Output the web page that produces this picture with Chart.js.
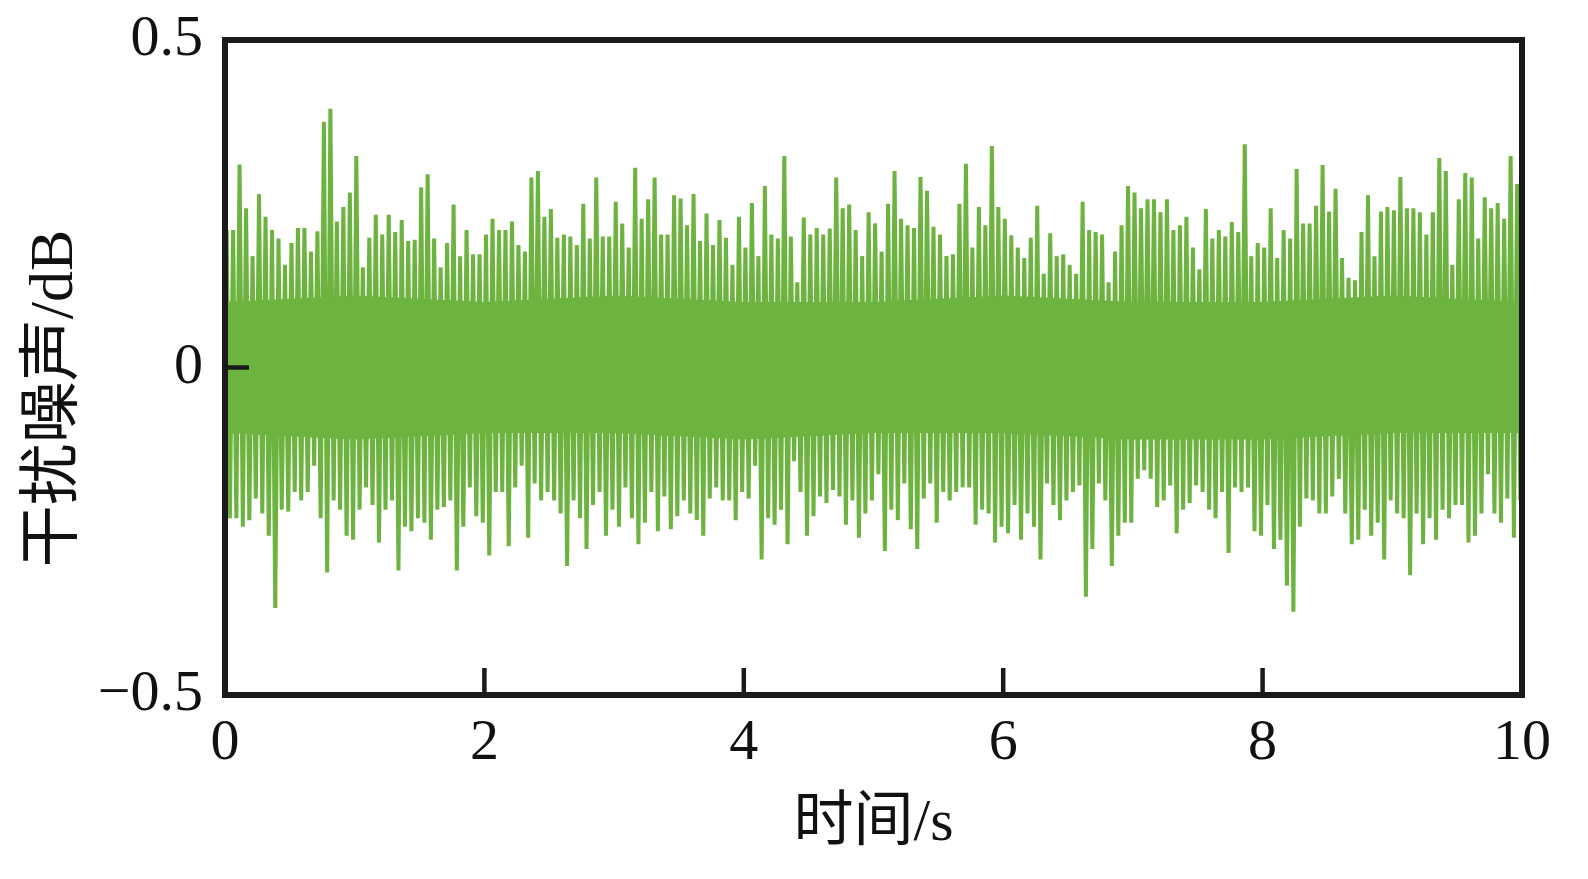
<!DOCTYPE html>
<html>
<head>
<meta charset="utf-8">
<script src="https://cdn.jsdelivr.net/npm/chart.js@4"></script>
<style>
  html, body { margin: 0; padding: 0; background: #fff; }
  #wrap { width: 1588px; height: 879px; }
</style>
</head>
<body>
<div id="wrap"><canvas id="noiseChart" width="1588" height="879"></canvas></div>
<script>
// time step of one bin (s); each bin holds one upward and one downward swing
const binStep = 0.05

// upper peaks per bin (dB)
const upperPeaks = [
  0.21, 0.21, 0.31, 0.243, 0.17, 0.265, 0.23, 0.21, 0.197, 0.157,
  0.19, 0.213, 0.213, 0.177, 0.208, 0.375, 0.395, 0.223, 0.245, 0.267,
  0.323, 0.153, 0.198, 0.233, 0.203, 0.233, 0.207, 0.225, 0.193, 0.195,
  0.275, 0.295, 0.197, 0.153,
  0.19, 0.249, 0.17, 0.21, 0.173, 0.173, 0.203, 0.227, 0.21, 0.21,
  0.223, 0.187, 0.177, 0.29, 0.3, 0.23, 0.242, 0.198, 0.203, 0.2,
  0.187, 0.25, 0.197, 0.29, 0.2, 0.2, 0.253, 0.22, 0.183, 0.305,
  0.227, 0.257, 0.29,
  0.203, 0.203, 0.263, 0.258, 0.217, 0.265, 0.193, 0.235, 0.187, 0.225,
  0.198, 0.157, 0.23, 0.183, 0.251, 0.17, 0.277, 0.203, 0.197, 0.323,
  0.2, 0.13, 0.229, 0.203, 0.213, 0.203, 0.212, 0.29, 0.243, 0.249,
  0.21, 0.17, 0.237,
  0.22, 0.177, 0.25, 0.3, 0.227, 0.217, 0.213, 0.291, 0.27, 0.215,
  0.203, 0.17, 0.173, 0.25, 0.311, 0.183, 0.245, 0.217, 0.338, 0.245,
  0.227, 0.202, 0.183, 0.167, 0.198, 0.247, 0.143, 0.205, 0.17, 0.173,
  0.157, 0.143, 0.253,
  0.21, 0.207, 0.203, 0.13, 0.177, 0.217, 0.277, 0.267, 0.243, 0.257,
  0.257, 0.237, 0.257, 0.21, 0.217, 0.23, 0.183, 0.15, 0.242, 0.197,
  0.21, 0.2, 0.222, 0.207, 0.341, 0.17, 0.19, 0.183, 0.243, 0.167,
  0.21, 0.197, 0.303,
  0.22, 0.22, 0.247, 0.309, 0.238, 0.273, 0.167, 0.137, 0.133, 0.207,
  0.263, 0.17, 0.238, 0.245, 0.24, 0.291, 0.243, 0.243, 0.237, 0.203,
  0.237, 0.32, 0.3, 0.157, 0.257, 0.297, 0.29, 0.197, 0.26, 0.243,
  0.251, 0.227, 0.323, 0.28
]

// lower peaks per bin (dB)
const lowerPeaks = [
  -0.23, -0.23, -0.243, -0.233, -0.2, -0.223, -0.257, -0.367, -0.217, -0.22,
  -0.19, -0.203, -0.19, -0.15, -0.23, -0.313, -0.203, -0.217, -0.257, -0.263,
  -0.217, -0.183, -0.21, -0.267, -0.217, -0.203, -0.31, -0.243, -0.25, -0.23,
  -0.237, -0.263, -0.217, -0.213,
  -0.203, -0.31, -0.243, -0.183, -0.227, -0.237, -0.287, -0.19, -0.19, -0.273,
  -0.183, -0.15, -0.26, -0.177, -0.203, -0.19, -0.203, -0.223, -0.303, -0.203,
  -0.23, -0.277, -0.21, -0.19, -0.257, -0.217, -0.243, -0.183, -0.23, -0.27,
  -0.237, -0.19, -0.25,
  -0.197, -0.247, -0.227, -0.203, -0.223, -0.233, -0.257, -0.2, -0.183, -0.203,
  -0.203, -0.233, -0.19, -0.2, -0.15, -0.293, -0.23, -0.24, -0.217, -0.27,
  -0.143, -0.19, -0.257, -0.227, -0.197, -0.207, -0.187, -0.197, -0.24, -0.203,
  -0.26, -0.223, -0.203,
  -0.163, -0.28, -0.217, -0.233, -0.177, -0.247, -0.277, -0.2, -0.177, -0.237,
  -0.19, -0.203, -0.19, -0.183, -0.183, -0.24, -0.217, -0.223, -0.267, -0.243,
  -0.253, -0.21, -0.263, -0.223, -0.243, -0.293, -0.177, -0.21, -0.233, -0.203,
  -0.19, -0.18, -0.35,
  -0.277, -0.177, -0.203, -0.303, -0.257, -0.237, -0.237, -0.17, -0.157, -0.17,
  -0.213, -0.203, -0.18, -0.253, -0.217, -0.207, -0.18, -0.19, -0.217, -0.23,
  -0.19, -0.283, -0.183, -0.19, -0.183, -0.25, -0.257, -0.21, -0.277, -0.263,
  -0.333, -0.373, -0.243,
  -0.2, -0.203, -0.223, -0.223, -0.197, -0.17, -0.223, -0.27, -0.263, -0.217,
  -0.257, -0.237, -0.293, -0.203, -0.223, -0.23, -0.317, -0.223, -0.27, -0.23,
  -0.263, -0.217, -0.23, -0.21, -0.21, -0.267, -0.257, -0.223, -0.163, -0.223,
  -0.237, -0.2, -0.26, -0.203
]

// edges of the dense (solid) body, one value per second
const coreTimes = [0, 1, 2, 3, 4, 5, 6, 7, 8, 9, 10]
const coreUpper = [0.1, 0.11, 0.1, 0.11, 0.1, 0.1, 0.11, 0.1, 0.1, 0.11, 0.1]
const coreLower = [-0.1, -0.11, -0.1, -0.1, -0.11, -0.1, -0.1, -0.11, -0.11, -0.1, -0.1]

const xTicks = [0, 2, 4, 6, 8, 10]
const yTicks = [-0.5, 0, 0.5]
const xInnerTicks = [2, 4, 6, 8]
const yInnerTicks = [0]

const xTitle = '时间/s'
const yTitle = '干扰噪声/dB\u3000'

// interleave the peaks into one zig-zag trace
const points = []
upperPeaks.forEach((u, i) => {
  points.push({ x: i * binStep + binStep * 0.25, y: u })
  points.push({ x: i * binStep + binStep * 0.75, y: lowerPeaks[i] })
})

const green = '#6db33f'
const numFont = '"Liberation Serif", "Times New Roman", serif'
const cjkFont = '"Liberation Serif", "Noto Sans CJK SC", serif'

// frame + inward ticks
const framePlugin = {
  id: 'frame',
  afterDatasetsDraw(chart) {
    const { ctx, chartArea: a, scales } = chart
    ctx.save()
    ctx.strokeStyle = '#1a1a1a'
    ctx.lineWidth = 4.5
    ctx.beginPath()
    xInnerTicks.forEach(v => {
      const px = scales.x.getPixelForValue(v)
      ctx.moveTo(px, a.bottom)
      ctx.lineTo(px, a.bottom - 27)
    })
    yInnerTicks.forEach(v => {
      const py = scales.y.getPixelForValue(v)
      ctx.moveTo(a.left, py)
      ctx.lineTo(a.left + 24, py)
    })
    ctx.stroke()
    ctx.lineWidth = 6
    ctx.strokeRect(a.left, a.top, a.right - a.left, a.bottom - a.top)
    ctx.restore()
  }
}

new Chart(document.getElementById('noiseChart'), {
  type: 'line',
  data: {
    datasets: [
      {
        data: coreTimes.map((t, i) => ({ x: t, y: coreUpper[i] })),
        borderWidth: 0,
        pointRadius: 0,
        fill: false
      },
      {
        data: coreTimes.map((t, i) => ({ x: t, y: coreLower[i] })),
        borderWidth: 0,
        pointRadius: 0,
        backgroundColor: green,
        fill: '-1'
      },
      {
        data: points,
        borderColor: green,
        borderWidth: 4,
        pointRadius: 0,
        tension: 0
      }
    ]
  },
  options: {
    responsive: false,
    animation: false,
    devicePixelRatio: 1,
    layout: { padding: { top: 40, right: 66, left: 0, bottom: 0 } },
    plugins: { legend: { display: false }, tooltip: { enabled: false } },
    scales: {
      x: {
        type: 'linear',
        min: 0,
        max: 10,
        afterBuildTicks: s => { s.ticks = xTicks.map(v => ({ value: v })) },
        afterFit: s => { s.height = 184; s.paddingLeft = 0; s.paddingRight = 0 },
        grid: { display: false, drawTicks: false },
        border: { display: false },
        ticks: {
          color: '#111',
          font: { family: numFont, size: 58 },
          padding: 14,
          maxRotation: 0
        },
        title: {
          display: true,
          text: xTitle,
          color: '#111',
          font: { family: cjkFont, size: 60, lineHeight: 1.2 },
          padding: { top: 0, bottom: 19 }
        }
      },
      y: {
        min: -0.5,
        max: 0.5,
        afterBuildTicks: s => { s.ticks = yTicks.map(v => ({ value: v })) },
        afterFit: s => { s.width = 225; s.paddingTop = 0; s.paddingBottom = 0 },
        grid: { display: false, drawTicks: false },
        border: { display: false },
        ticks: {
          color: '#111',
          font: { family: numFont, size: 58 },
          padding: 22,
          callback: v => (v < 0 ? '\u2212' + Math.abs(v) : String(v))
        },
        title: {
          display: true,
          text: yTitle,
          color: '#111',
          font: { family: cjkFont, size: 62, lineHeight: 1.2 },
          padding: { top: 19, bottom: 0 }
        }
      }
    }
  },
  plugins: [framePlugin]
})
</script>
</body>
</html>
